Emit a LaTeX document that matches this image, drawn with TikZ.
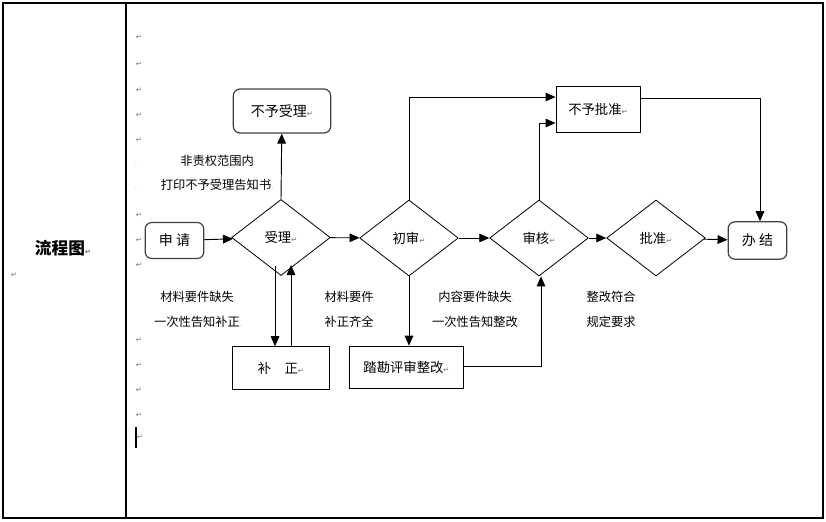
\documentclass[tikz,border=0pt]{standalone}
\usepackage{fontspec}
\setmainfont{Noto Sans CJK SC}
\newfontfamily\symfont{DejaVu Sans}
\usetikzlibrary{arrows.meta,shapes.geometric}
\tikzset{
  px/.style={x=0.75pt,y=-0.75pt},
  roundbox/.style={draw=black!75,line width=0.9pt,rounded corners=5pt,minimum width=44pt,minimum height=27pt,inner sep=0pt,font=\fontsize{10.5}{12}\selectfont},
  rectbox/.style={draw,line width=0.7pt,minimum height=32pt,inner sep=0pt,font=\fontsize{10}{12}\selectfont},
  dia/.style={draw,diamond,aspect=1.3,minimum width=74pt,minimum height=57pt,inner sep=0pt,line width=0.6pt,font=\fontsize{10}{12}\selectfont},
  lbl/.style={font=\fontsize{9.2}{10}\selectfont,inner sep=0pt},
  flow/.style={line width=0.7pt,-{Triangle[length=7.5pt,width=6.5pt]}},
  retmark/.style={font=\symfont\fontsize{5.5}{6}\selectfont,text=black!55,inner sep=0pt},
  dotmark/.style={font=\fontsize{5}{6}\selectfont,text=black!55,inner sep=0pt}
}
\newcommand{\rmk}{{\symfont\fontsize{5.5}{6}\selectfont\color{black!55}↵}}
\newcommand{\dmk}{{\fontsize{5}{6}\selectfont\color{black!55}.}}
\begin{document}
\begin{tikzpicture}[px]
\useasboundingbox (0,0) rectangle (826,522);
% table frame
\draw[line width=0.8pt] (3,3) rectangle (823,518);
\draw[line width=0.8pt] (126,3) -- (126,518);
\node[font=\bfseries\fontsize{12.5}{14}\selectfont,inner sep=0pt] (title) at (63,248) {流程图\rmk};
\node[retmark] (r0) at (14,275) {↵};
% left column paragraph marks
\foreach \yy [count=\i] in {37,64,90,115,140,215,240,265,340,365,390,415}
  \node[retmark] (m\i) at (139,\yy) {↵};
\node[dotmark] (d1) at (136,163) {.};
\node[dotmark] (d2) at (136,188) {.};
\draw[line width=1.3pt] (136,427) -- (136,448);
\node[retmark] (m13) at (140,437) {↵};

% nodes
\node[roundbox,minimum width=44pt] (apply) at (174.5,240.5) {申 请};
\node[dia] (accept) at (281,237.5) {受理\rmk};
\node[roundbox,minimum width=73pt,minimum height=33pt] (reject) at (282,111) {不予受理\rmk};
\node[dia] (first) at (409,238) {初审\rmk};
\node[dia] (review) at (539,238) {审核\rmk};
\node[dia] (approve) at (656,238) {批准\rmk};
\node[roundbox,minimum width=44pt,minimum height=28pt] (done) at (757.5,240.5) {办 结};
\node[rectbox,minimum width=63pt,minimum height=34pt] (deny) at (598,109.5) {不予批准\rmk};
\node[rectbox,minimum width=73pt] (fix) at (281,368) {补\quad 正\rmk};
\node[rectbox,minimum width=85pt] (survey) at (406.5,367.5) {踏勘评审整改\rmk};

% junction coordinates
\coordinate (c1) at (409,97);
\coordinate (c2) at (539,123);
\coordinate (c3) at (760,98);
\coordinate (c4) at (541,366);
\coordinate (a1) at (275,266);
\coordinate (a2) at (291,265);

% connectors
\draw[flow] (apply) -- (accept);
\draw[flow] (accept.north) -- (reject);
\draw[flow] (accept) -- (first);
\draw[flow] (first) -- (review);
\draw[flow] (review) -- (approve);
\draw[flow] (approve) -- (done);
\draw[flow] (a1) -- (a1 |- fix.north);
\draw[flow] (a2 |- fix.north) -- (a2);
\draw[flow] (first.south) -- (survey.north -| first.south);
\draw[flow] (first.north) -- (c1) -- (c1 -| deny.west);
\draw[flow] (review.north) -- (c2) -- (c2 -| deny.west);
\draw[flow] (deny.east |- c3) -- (c3) -- (c3 |- done.north);
\draw[flow] (survey.east |- c4) -- (c4) -- (c4 |- review.south);

% labels
\node[lbl] (l1) at (218,161) {非责权范围内\dmk};
\node[lbl] (l2) at (217,185) {打印不予受理告知书\dmk};
\node[lbl] (l3) at (198,297) {材料要件缺失\dmk};
\node[lbl] (l4) at (198,322) {一次性告知补正\dmk};
\node[lbl] (l5) at (350,297) {材料要件\dmk};
\node[lbl] (l6) at (350,322) {补正齐全\dmk};
\node[lbl] (l7) at (476,297) {内容要件缺失\dmk};
\node[lbl] (l8) at (476,322) {一次性告知整改\dmk};
\node[lbl] (l9) at (612,297) {整改符合\dmk};
\node[lbl] (l10) at (612,322) {规定要求\dmk};
\end{tikzpicture}
\end{document}
